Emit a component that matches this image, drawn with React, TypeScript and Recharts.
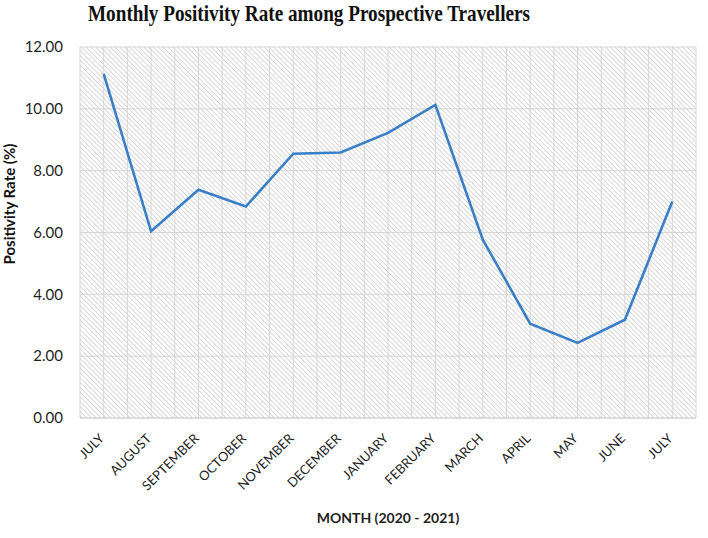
import React from "react";
import {
  LineChart,
  Line,
  XAxis,
  YAxis,
  CartesianGrid,
} from "recharts";

const months = [
  "JULY",
  "AUGUST",
  "SEPTEMBER",
  "OCTOBER",
  "NOVEMBER",
  "DECEMBER",
  "JANUARY",
  "FEBRUARY",
  "MARCH",
  "APRIL",
  "MAY",
  "JUNE",
  "JULY ",
];

const positivity = [
  11.13, 6.04, 7.38, 6.84, 8.55, 8.59, 9.22, 10.13, 5.77, 3.05, 2.43, 3.18, 7.0,
];

const yTicks = [0, 2, 4, 6, 8, 10, 12];

const data = months.map((month, i) => ({ month, rate: positivity[i] }));

const TITLE = "Monthly Positivity Rate among Prospective Travellers";

function MonthTick(props: any) {
  const { x, y, payload } = props;
  const ax = x - 2;
  const ay = y + 10;
  return (
    <text
      x={ax}
      y={ay}
      dy="0.35em"
      transform={`rotate(-45 ${ax} ${ay})`}
      textAnchor="end"
      fontSize={13}
      fontFamily="Lato, sans-serif"
      fill="#1f1f1f"
    >
      {payload.value.trim()}
    </text>
  );
}

export default function App() {
  return (
    <div
      style={{
        position: "absolute",
        left: 0,
        top: 0,
        width: 708,
        height: 538,
        background: "#fff",
      }}
    >
      <svg width={0} height={0} style={{ position: "absolute" }}>
        <defs>
          <pattern
            id="hatch"
            patternUnits="userSpaceOnUse"
            width={3.4}
            height={3.4}
            patternTransform="rotate(-45)"
          >
            <rect width={3.4} height={3.4} fill="#ffffff" />
            <line x1={0} y1={0} x2={0} y2={3.4} stroke="#cccccc" strokeWidth={1.5} />
          </pattern>
        </defs>
      </svg>
      <svg
        width={708}
        height={34}
        style={{ position: "absolute", left: 0, top: 0 }}
      >
        <text
          x={88}
          y={21}
          textLength={442}
          lengthAdjust="spacingAndGlyphs"
          fontFamily="'Liberation Serif', 'Times New Roman', serif"
          fontWeight="bold"
          fontSize={22.5}
          fill="#111"
        >
          {TITLE}
        </text>
      </svg>
      <LineChart
        width={708}
        height={538}
        data={data}
        margin={{ top: 47, right: 12, bottom: 20, left: 18 }}
      >
        <CartesianGrid
          stroke="#d6d6d6"
          strokeWidth={1}
          fill="url(#hatch)"
          fillOpacity={1}
          verticalCoordinatesGenerator={({ offset }: any) => {
            const n = months.length * 2;
            return Array.from({ length: n + 1 }, (_, k) => offset.left + (offset.width * k) / n);
          }}
        />
        <XAxis
          dataKey="month"
          scale="band"
          interval={0}
          height={100}
          tickLine={false}
          axisLine={{ stroke: "#d0d0d0" }}
          tick={<MonthTick />}
          label={{
            value: "MONTH (2020 - 2021)",
            position: "insideBottom",
            offset: -5,
            fontSize: 14,
            fontWeight: "bold",
            fontFamily: "Lato, sans-serif",
            fill: "#1f1f1f",
          }}
        />
        <YAxis
          domain={[0, 12]}
          ticks={yTicks}
          width={62}
          tickLine={false}
          axisLine={false}
          tickMargin={11}
          tickFormatter={(v: number) => v.toFixed(2)}
          tick={{ fontSize: 15, fontFamily: "Lato, sans-serif", fill: "#1f1f1f" }}
          label={{
            value: "Positivity Rate (%)",
            angle: -90,
            position: "insideLeft",
            dx: -13,
            dy: 32,
            fontSize: 15,
            fontWeight: "bold",
            fontFamily: "Lato, sans-serif",
            fill: "#111",
          }}
        />
        <Line
          type="linear"
          dataKey="rate"
          stroke="#3a7fc6"
          strokeWidth={2.6}
          dot={false}
          activeDot={false}
          isAnimationActive={false}
        />
      </LineChart>
    </div>
  );
}
